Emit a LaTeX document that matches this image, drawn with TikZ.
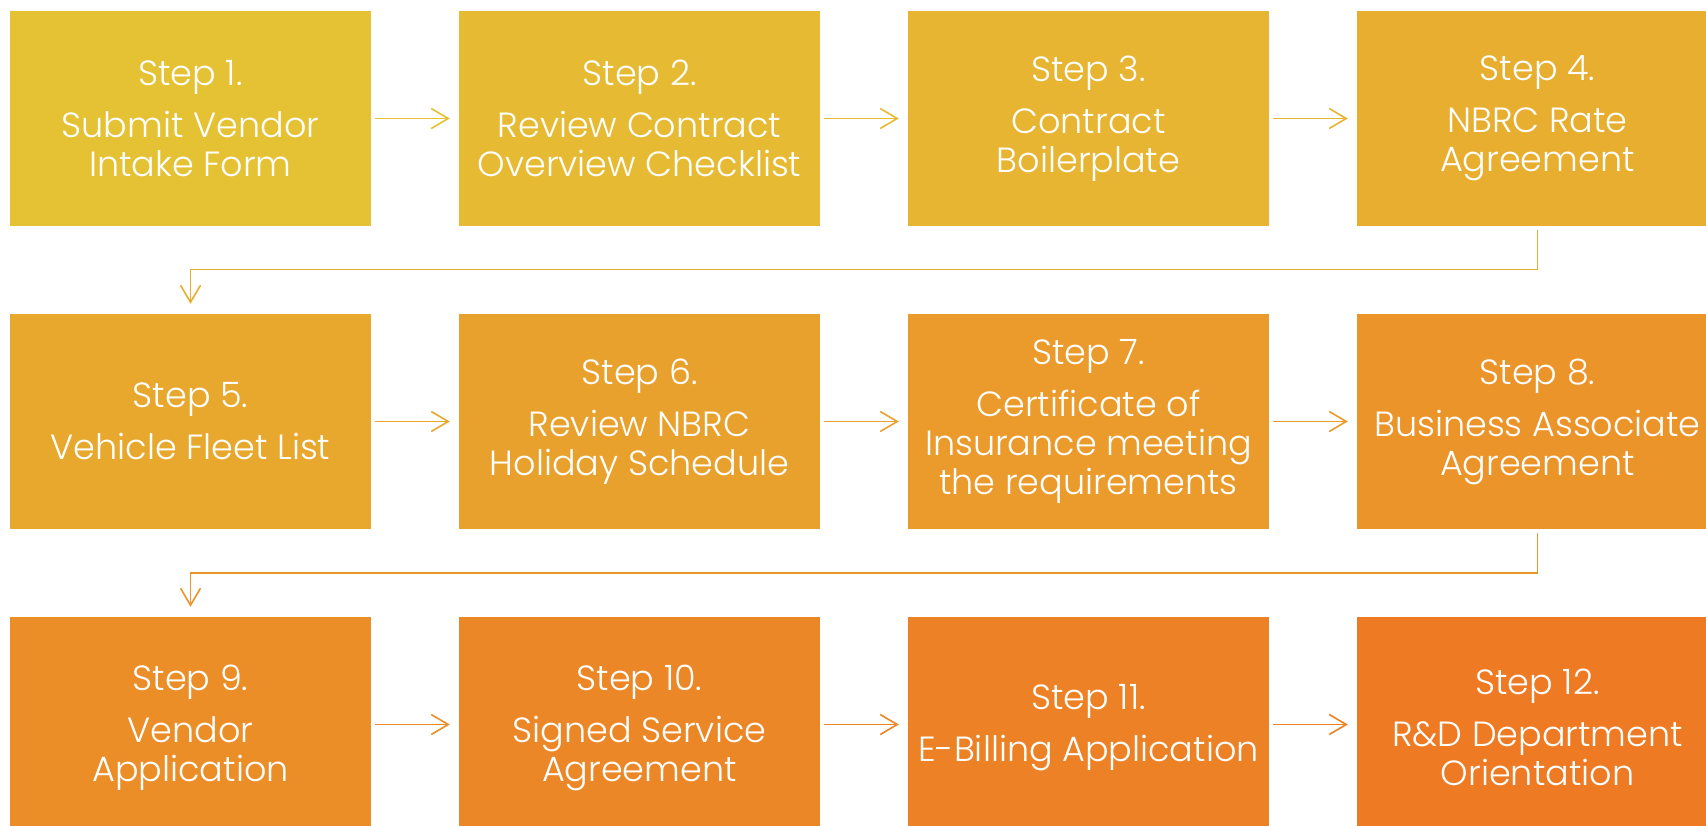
\documentclass[tikz,border=0pt]{standalone}
\usepackage{fontspec}
\setmainfont{Poppins}[UprightFont=* Light]
\usetikzlibrary{arrows.meta,calc}
\definecolor{c1}{RGB}{229,194,52}
\definecolor{c2}{RGB}{230,187,51}
\definecolor{c3}{RGB}{231,181,49}
\definecolor{c4}{RGB}{231,174,48}
\definecolor{c5}{RGB}{232,168,46}
\definecolor{c6}{RGB}{233,161,45}
\definecolor{c7}{RGB}{234,155,43}
\definecolor{c8}{RGB}{235,148,42}
\definecolor{c9}{RGB}{236,142,40}
\definecolor{c10}{RGB}{236,135,39}
\definecolor{c11}{RGB}{237,129,37}
\definecolor{c12}{RGB}{238,122,36}
\tikzset{
  box/.style={rectangle, inner sep=0pt, minimum width=361pt, minimum height=215pt,
    align=center, text=white,
    font=\fontsize{35}{39}\selectfont},
  lowbox/.style={box, minimum height=221pt},
  conn/.style={line width=1.6pt, -{Straight Barb[length=17pt,width=20pt]}},
  hconn/.style={conn, shorten <=4pt, shorten >=9pt},
}
\newcommand{\stp}[1]{Step #1.\\[13pt]}
\begin{document}
\begin{tikzpicture}[x=1pt,y=1pt]
\useasboundingbox (0,0) rectangle (1706,-826);
\clip (0,0) rectangle (1706,-826);
\fill[white] (0,0) rectangle (1706,-826);
% row 1
\node[box, fill=c1] (b1) at (190.5,-118.5) {\stp{1}Submit Vendor\\Intake Form};
\node[box, fill=c2] (b2) at (639.5,-118.5) {\stp{2}Review Contract\\Overview Checklist};
\node[box, fill=c3] (b3) at (1088.5,-118.5) {\stp{3}Contract\\Boilerplate};
\node[box, fill=c4] (b4) at (1537.5,-118.5) {\stp{4}NBRC Rate\\Agreement};
% row 2
\node[box, fill=c5] (b5) at (190.5,-421.5) {\stp{5}Vehicle Fleet List};
\node[box, fill=c6] (b6) at (639.5,-421.5) {\stp{6}Review NBRC\\Holiday Schedule};
\node[box, fill=c7] (b7) at (1088.5,-421.5) {\stp{7}Certificate of\\Insurance meeting\\the requirements};
\node[box, fill=c8] (b8) at (1537.5,-421.5) {\stp{8}Business Associate\\Agreement};
% row 3
\node[lowbox, fill=c9] (b9) at (190.5,-727.5) {\stp{9}Vendor\\Application};
\node[lowbox, fill=c10] (b10) at (639.5,-727.5) {\stp{10}Signed Service\\Agreement};
\node[lowbox, fill=c11] (b11) at (1088.5,-727.5) {\stp{11}E-Billing Application};
\node[lowbox, fill=c12] (b12) at (1537.5,-727.5) {\stp{12}R\&D Department\\Orientation};
% connectors
\draw[hconn, c1] (b1) -- (b2);
\draw[hconn, c2] (b2) -- (b3);
\draw[hconn, c3] (b3) -- (b4);
\draw[conn, c4, shorten <=4pt, shorten >=10pt] (b4.south) -- ([yshift=-43.5pt]b4.south) -| (b5.north);
\draw[hconn, c5] (b5) -- (b6);
\draw[hconn, c6] (b6) -- (b7);
\draw[hconn, c7] (b7) -- (b8);
\draw[conn, c8, shorten <=4pt, shorten >=10pt] (b8.south) -- ([yshift=-44pt]b8.south) -| (b9.north);
\draw[hconn, c9] ([yshift=3pt]b9.east) -- ([yshift=3pt]b10.west);
\draw[hconn, c10] ([yshift=3pt]b10.east) -- ([yshift=3pt]b11.west);
\draw[hconn, c11] ([yshift=3pt]b11.east) -- ([yshift=3pt]b12.west);
\end{tikzpicture}
\end{document}
